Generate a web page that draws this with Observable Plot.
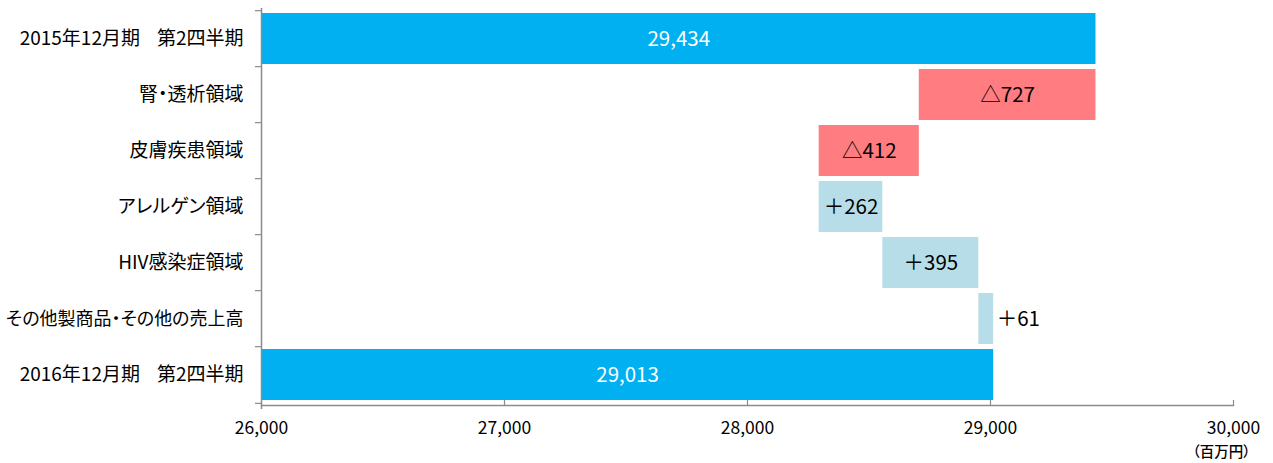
<!DOCTYPE html>
<html><head><meta charset="utf-8">
<script src="https://cdn.jsdelivr.net/npm/d3@7"></script>
<script src="https://cdn.jsdelivr.net/npm/@observablehq/plot@0.6"></script>
<style>
body{margin:0;background:#fff;}
svg text{white-space:pre;font-feature-settings:"palt";}
</style></head><body><div id="chart"></div>
<script>
const categories = [
  "2015年12月期\u00A0\u00A0\u00A0\u00A0第2四半期",
  "腎・透析領域",
  "皮膚疾患領域",
  "アレルゲン領域",
  "HIV感染症領域",
  "その他製商品・その他の売上高",
  "2016年12月期\u00A0\u00A0\u00A0\u00A0第2四半期"
];
const startTotal = 29434;
const deltas = [-727, -412, 262, 395, 61];
const endTotal = 29013;
const xTicks = [26000, 27000, 28000, 29000, 30000];
const unitLabel = "（百万円）";

const colors = {total: "#00B0F0", dec: "#FF7C80", inc: "#B7DEE8"};
const fmt = d3.format(",");
const base = xTicks[0];

const rows = [];
rows.push({cat: categories[0], x1: base, x2: startTotal, kind: "total", label: fmt(startTotal)});
let run = startTotal;
deltas.forEach((d, i) => {
  const a = run, b = run + d;
  rows.push({cat: categories[i + 1], x1: Math.min(a, b), x2: Math.max(a, b),
    kind: d < 0 ? "dec" : "inc", label: (d < 0 ? "△" : "＋") + Math.abs(d)});
  run = b;
});
rows.push({cat: categories[6], x1: base, x2: endTotal, kind: "total", label: fmt(endTotal)});

const inside = rows.filter(r => r.x2 - r.x1 >= 150);
const outside = rows.filter(r => r.x2 - r.x1 < 150);

const W = 1273, H = 463, mT = 8, mB = 58, mL = 261, mR = 40;
const step = (H - mT - mB) / categories.length;
const gray = "#8c8c8c";
const font = "'Noto Sans CJK JP', 'Noto Sans', sans-serif";
const tickLen = 6 / (972 / 4000);

const chart = Plot.plot({
  width: W, height: H,
  marginTop: mT, marginBottom: mB, marginLeft: mL, marginRight: mR,
  style: {fontFamily: font, background: "#fff", color: "#000"},
  x: {domain: [xTicks[0], xTicks[xTicks.length - 1]]},
  y: {domain: categories, paddingInner: 0.083, paddingOuter: 0.0415, axis: null},
  marks: [
    Plot.barX(rows, {y: "cat", x1: "x1", x2: "x2", fill: d => colors[d.kind]}),
    Plot.text(inside, {y: "cat", x: d => (d.x1 + d.x2) / 2, text: "label",
      fill: d => d.kind === "total" ? "white" : "black", fontSize: 20.5}),
    Plot.text(outside, {y: "cat", x: "x2", text: "label", textAnchor: "start", dx: 3,
      fill: "black", fontSize: 20.5}),
    Plot.ruleX([base], {stroke: gray, strokeWidth: 1.5, insetBottom: -4}),
    Plot.frame({anchor: "bottom", stroke: gray, strokeWidth: 1.5}),
    Plot.ruleX(xTicks.slice(1), {stroke: gray, strokeWidth: 1.2, insetTop: (H - mT - mB) - 5}),
    Plot.ruleY(categories, {y: d => d, x1: base, x2: base - tickLen, dy: -step / 2, stroke: gray, strokeWidth: 1.2}),
    Plot.ruleY([categories[categories.length - 1]], {y: d => d, x1: base, x2: base - tickLen, dy: step / 2, stroke: gray, strokeWidth: 1.2}),
    Plot.text(categories, {y: d => d, frameAnchor: "left", textAnchor: "end", dx: -18,
      fontSize: d => (!/\d/.test(d) && d.length > 10) ? 18 : 19, fill: "#000"}),
    Plot.axisX({ticks: xTicks, tickSize: 0, tickPadding: 16, tickFormat: fmt, fontSize: 17.5, label: null}),
    Plot.text([unitLabel], {frameAnchor: "bottom-right", dx: 17, dy: 51, textAnchor: "end", fontSize: 14.5, fontWeight: 500})
  ]
});
document.getElementById("chart").appendChild(chart);
</script></body></html>
